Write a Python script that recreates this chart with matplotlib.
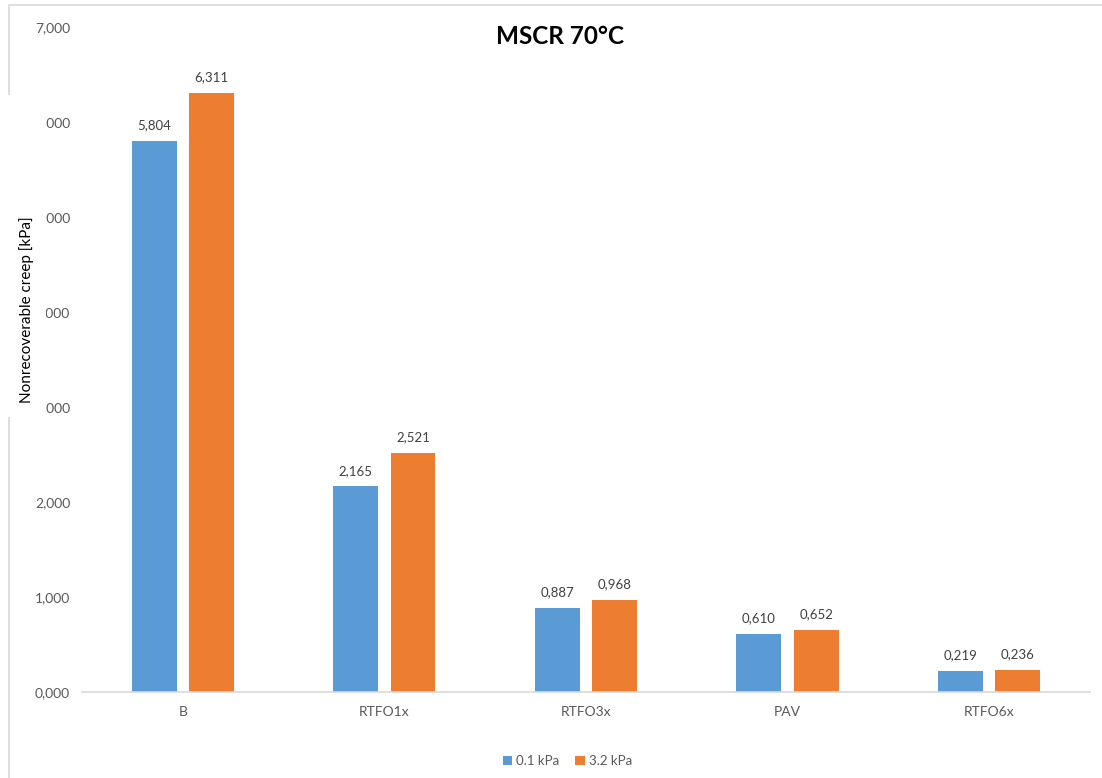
import matplotlib.pyplot as plt
from matplotlib.patches import Rectangle
import numpy as np

plt.rcParams["font.family"] = ["Lato", "DejaVu Sans"]

categories = ["B", "RTFO1x", "RTFO3x", "PAV", "RTFO6x"]
series_names = ["0.1 kPa", "3.2 kPa"]
creep_01 = [5.804, 2.165, 0.887, 0.610, 0.219]
creep_32 = [6.311, 2.521, 0.968, 0.652, 0.236]
yticks = [0, 1, 2, 3, 4, 5, 6, 7]

colors = ["#5B9BD5", "#ED7D31"]
grey = "#595959"


def comma(v):
    return f"{v:.3f}".replace(".", ",")


fig = plt.figure(figsize=(11.02, 7.78), dpi=100)
ax = fig.add_axes([0.0744, 0.1105, 0.9146, 0.8545])

x = np.arange(len(categories))
width = 0.223
offset = 0.142
for vals, name, col, sgn in [(creep_01, series_names[0], colors[0], -1),
                             (creep_32, series_names[1], colors[1], 1)]:
    bars = ax.bar(x + sgn * offset, vals, width, color=col, label=name, zorder=2)
    for b, v in zip(bars, vals):
        ax.annotate(comma(v), (b.get_x() + b.get_width() / 2, v),
                    xytext=(0, 7), textcoords="offset points",
                    ha="center", va="bottom", fontsize=9.5, color="#404040")

ax.set_xlim(-0.5, len(categories) - 0.5)
ax.set_ylim(0, 7)
ax.set_yticks(yticks)
ax.set_yticklabels([comma(t) for t in yticks])
ax.set_xticks(x)
ax.set_xticklabels(categories)
ax.tick_params(axis="both", length=0, colors=grey, labelsize=10)
ax.tick_params(axis="y", pad=8.5)
ax.tick_params(axis="x", pad=10)
for s in ["top", "right", "left"]:
    ax.spines[s].set_visible(False)
ax.spines["bottom"].set_color("#D9D9D9")
ax.spines["bottom"].set_linewidth(1.2)

fig.text(560 / 1102, 1 - 37 / 778, "MSCR 70°C", fontsize=17.5,
         fontweight="bold", ha="center", va="center")

# chart frame (cropped on the right and bottom)
fig.add_artist(Rectangle((9 / 1102, -0.1), 1.2, 1.1 - 5 / 778,
                         transform=fig.transFigure, fill=False,
                         edgecolor="#D9D9D9", linewidth=1.2, zorder=0))

# axis title box overlapping the tick labels
fig.add_artist(Rectangle((0, 1 - 417 / 778), 46 / 1102, (417 - 95) / 778,
                         transform=fig.transFigure, facecolor="white",
                         edgecolor="none", zorder=5))
fig.text(27 / 1102, 1 - 310 / 778, "Nonrecoverable creep [kPa]",
         rotation=90, ha="center", va="center", fontsize=11,
         color="#000000", zorder=6)

fig.legend(loc="center", bbox_to_anchor=(0.515, 0.022), ncol=2,
           frameon=False, fontsize=9.5, labelcolor=grey,
           handlelength=0.7, handleheight=0.7, handletextpad=0.3,
           columnspacing=1.2)

fig.savefig("out.png", dpi=100)
